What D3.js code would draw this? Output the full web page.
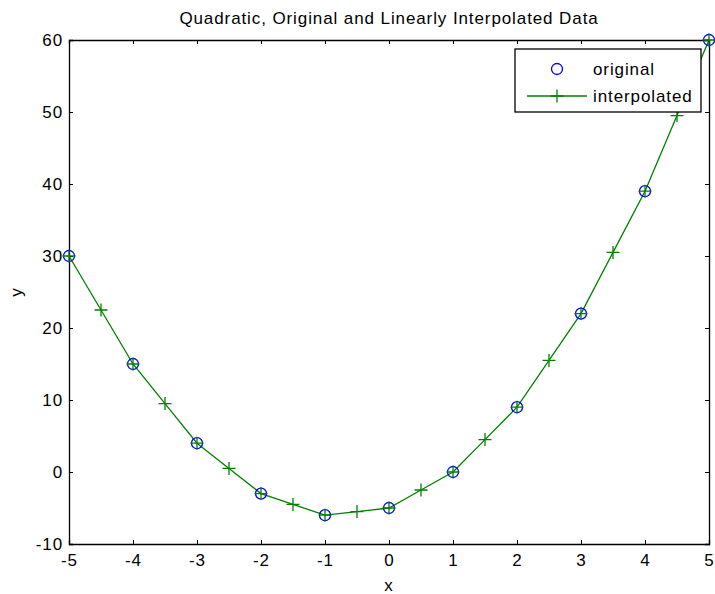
<!DOCTYPE html>
<html>
<head>
<meta charset="utf-8">
<script src="https://cdn.jsdelivr.net/npm/d3@7"></script>
<style>
  body { margin: 0; background: #fff; }
  text { font-family: "Liberation Sans", Arial, sans-serif; letter-spacing: 0.9px; }
</style>
</head>
<body>
<script>
// original samples
var origX = [-5, -4, -3, -2, -1, 0, 1, 2, 3, 4, 5];
var origY = [30, 15, 4, -3, -6, -5, 0, 9, 22, 39, 60];

// linearly interpolated samples
var interpX = [-5, -4.5, -4, -3.5, -3, -2.5, -2, -1.5, -1, -0.5, 0, 0.5, 1, 1.5, 2, 2.5, 3, 3.5, 4, 4.5, 5];
var interpY = [30, 22.5, 15, 9.5, 4, 0.5, -3, -4.5, -6, -5.5, -5, -2.5, 0, 4.5, 9, 15.5, 22, 30.5, 39, 49.5, 60];

var xTicks = [-5, -4, -3, -2, -1, 0, 1, 2, 3, 4, 5];
var yTicks = [-10, 0, 10, 20, 30, 40, 50, 60];

var W = 715, H = 594;
var margin = { top: 40, right: 6, bottom: 50, left: 69 };
var pw = W - margin.left - margin.right;
var ph = H - margin.top - margin.bottom;

var svg = d3.select("body").append("svg")
    .attr("width", W)
    .attr("height", H);

var g = svg.append("g")
    .attr("transform", "translate(" + margin.left + "," + margin.top + ")");

var x = d3.scaleLinear().domain([-5, 5]).range([0, pw]);
var y = d3.scaleLinear().domain([-10, 60]).range([ph, 0]);

var fmt = function (d) { return String(d); };  // plain hyphen minus like the original

// axes with inward ticks on all sides
g.append("g")
    .attr("transform", "translate(0," + ph + ")")
    .call(d3.axisBottom(x).tickValues(xTicks).tickSize(-4).tickPadding(10).tickFormat(fmt));
g.append("g")
    .call(d3.axisTop(x).tickValues(xTicks).tickSize(-4).tickFormat(""));
g.append("g")
    .call(d3.axisLeft(y).tickValues(yTicks).tickSize(-4).tickPadding(6).tickFormat(fmt));
g.append("g")
    .attr("transform", "translate(" + pw + ",0)")
    .call(d3.axisRight(y).tickValues(yTicks).tickSize(-4).tickFormat(""));

g.selectAll(".domain").attr("stroke", "#000").attr("stroke-width", 1.3);
g.selectAll(".tick line").attr("stroke", "#000");
g.selectAll(".tick text").attr("font-size", 17).attr("fill", "#000");

var ptsO = origX.map(function (d, i) { return { x: d, y: origY[i] }; });
var ptsI = interpX.map(function (d, i) { return { x: d, y: interpY[i] }; });

var line = d3.line()
    .x(function (d) { return x(d.x); })
    .y(function (d) { return y(d.y); });

g.append("path")
    .datum(ptsI)
    .attr("d", line)
    .attr("fill", "none")
    .attr("stroke", "#008000")
    .attr("stroke-width", 1.3);

g.selectAll(".orig")
    .data(ptsO)
    .enter().append("circle")
    .attr("class", "orig")
    .attr("cx", function (d) { return x(d.x); })
    .attr("cy", function (d) { return y(d.y); })
    .attr("r", 5.5)
    .attr("fill", "none")
    .attr("stroke", "#0000ff")
    .attr("stroke-width", 1.3);

g.selectAll(".interp")
    .data(ptsI)
    .enter().append("path")
    .attr("class", "interp")
    .attr("transform", function (d) { return "translate(" + x(d.x) + "," + y(d.y) + ")"; })
    .attr("d", "M-6.5,0H6.5M0,-6.5V6.5")
    .attr("fill", "none")
    .attr("stroke", "#008000")
    .attr("stroke-width", 1.3);

// title and axis labels
svg.append("text")
    .attr("x", margin.left + pw / 2)
    .attr("y", 24)
    .attr("text-anchor", "middle")
    .attr("font-size", 17)
    .text("Quadratic, Original and Linearly Interpolated Data");

svg.append("text")
    .attr("x", margin.left + pw / 2)
    .attr("y", 591)
    .attr("text-anchor", "middle")
    .attr("font-size", 17)
    .text("x");

svg.append("text")
    .attr("transform", "translate(22," + (margin.top + ph / 2) + ") rotate(-90)")
    .attr("text-anchor", "middle")
    .attr("font-size", 17)
    .text("y");

// legend
var lg = svg.append("g").attr("transform", "translate(515,49)");
lg.append("rect")
    .attr("width", 186)
    .attr("height", 63)
    .attr("fill", "#fff")
    .attr("stroke", "#000")
    .attr("stroke-width", 1.3);
lg.append("circle")
    .attr("cx", 42).attr("cy", 20).attr("r", 5.5)
    .attr("fill", "none").attr("stroke", "#0000ff").attr("stroke-width", 1.3);
lg.append("text").attr("x", 78).attr("y", 26).attr("font-size", 17).text("original");
lg.append("line")
    .attr("x1", 12).attr("x2", 72).attr("y1", 47).attr("y2", 47)
    .attr("stroke", "#008000").attr("stroke-width", 1.3);
lg.append("path")
    .attr("transform", "translate(42,47)")
    .attr("d", "M-6.5,0H6.5M0,-6.5V6.5")
    .attr("stroke", "#008000").attr("stroke-width", 1.3);
lg.append("text").attr("x", 78).attr("y", 53).attr("font-size", 17).text("interpolated");
</script>
</body>
</html>
